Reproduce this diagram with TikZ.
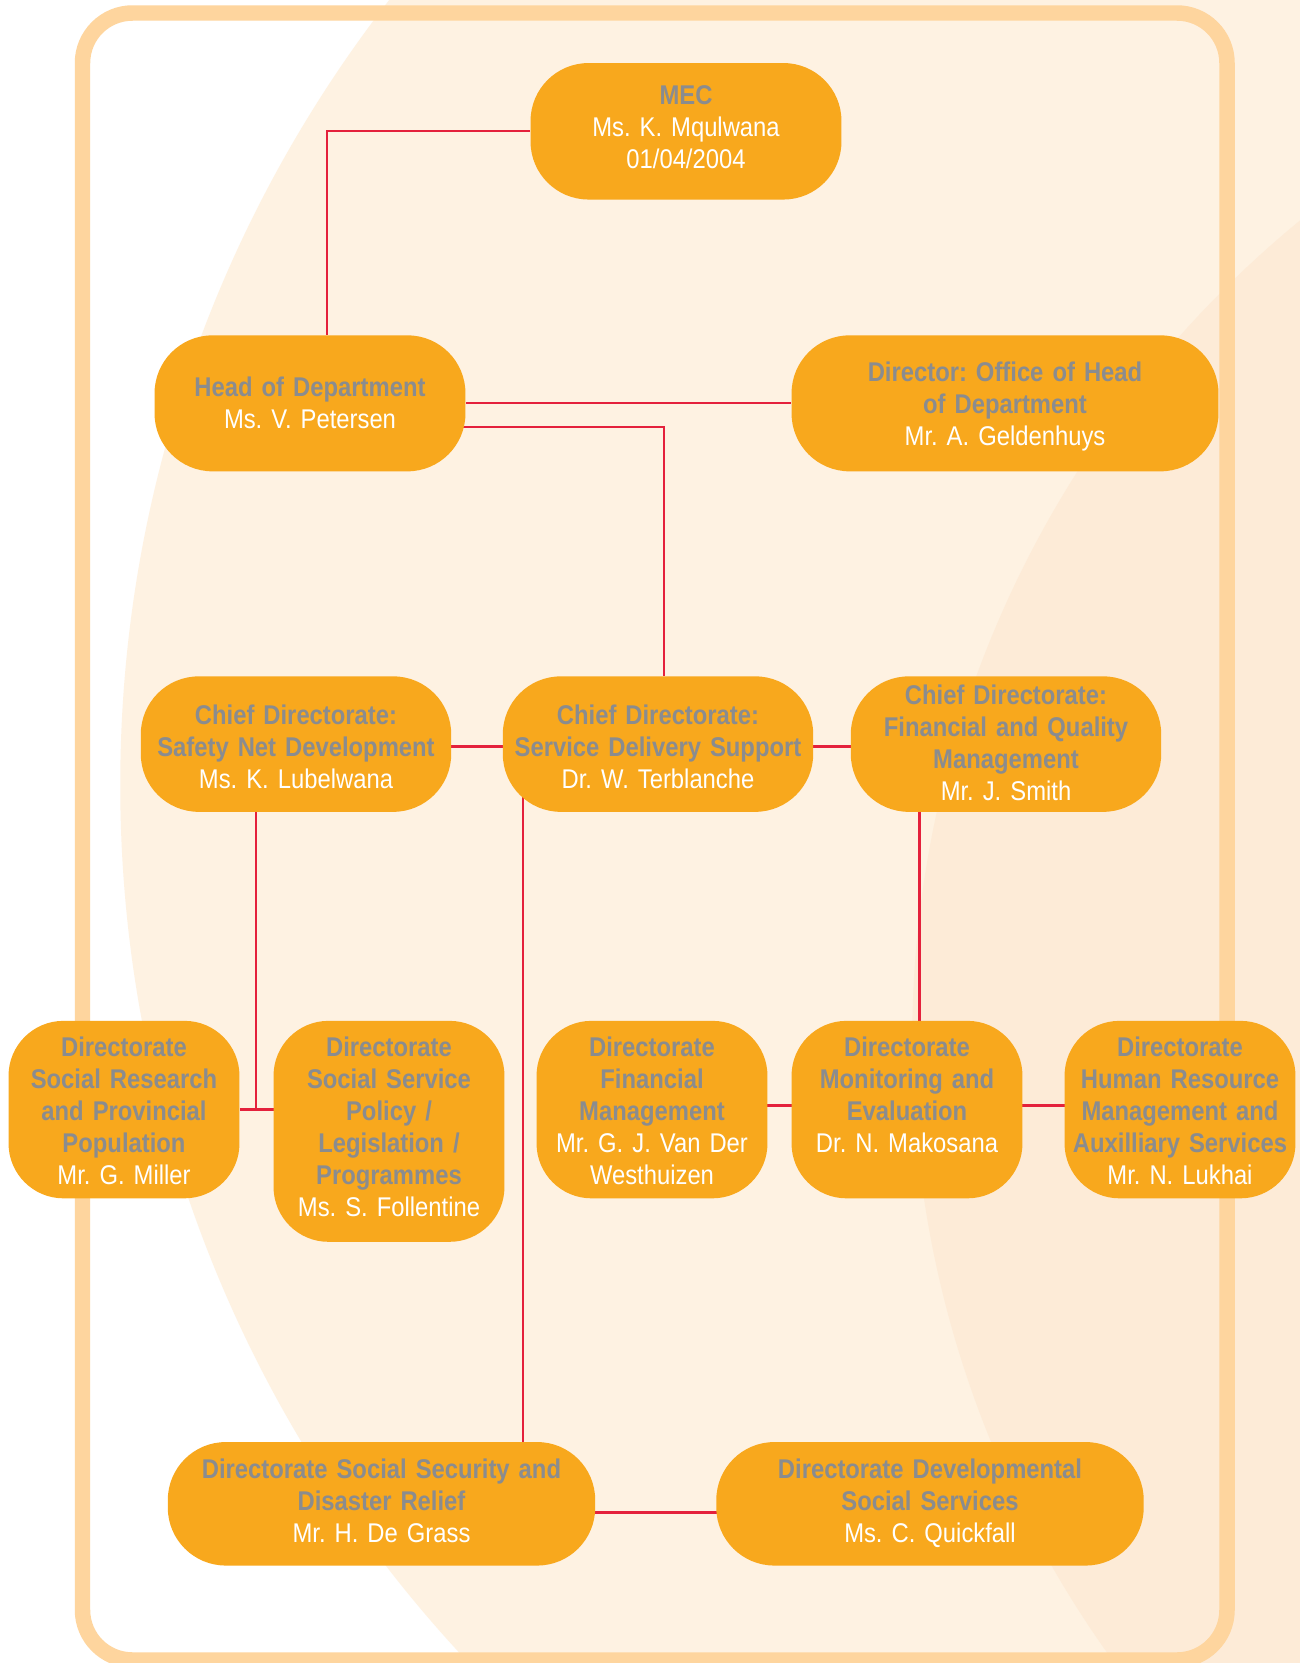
\documentclass[tikz,border=0pt]{standalone}
\usepackage{fontspec}
\setmainfont{Liberation Sans}[FakeStretch=0.88]

\pgfdeclarelayer{back}
\pgfdeclarelayer{wires}
\pgfsetlayers{back,wires,main}

\definecolor{boxorange}{HTML}{F8A81D}
\definecolor{titlegray}{HTML}{8A8C8F}
\definecolor{wirered}{HTML}{E4213C}
\definecolor{paper}{HTML}{FEF2E2}
\definecolor{paperdark}{HTML}{FDEBD7}
\definecolor{framepeach}{HTML}{FED59E}

\newcommand{\officer}[1]{\textcolor{white}{\mdseries #1}}

\tikzset{
  unit/.style={rectangle, rounded corners=1.16cm, fill=boxorange, inner sep=0pt,
    anchor=north, align=center, text=titlegray,
    font=\fontsize{15.4}{18.2}\selectfont\frenchspacing\bfseries},
  toprow/.style={unit, text width=6.22cm},
  chief/.style={unit, text width=6.21cm, text height=0.97cm, text depth=1.74cm},
  directorate/.style={unit, text width=4.62cm, rounded corners=1.1cm,
    text height=0.72cm, text depth=2.83cm},
  bottomrow/.style={unit, text width=8.55cm, text height=0.72cm, text depth=1.75cm},
  wire/.style={draw=wirered, line width=1.3pt},
  tie/.style={wire, line width=1.6pt},
}

\begin{document}
\begin{tikzpicture}[x=0.02cm, y=-0.02cm]
    \useasboundingbox (0,0) rectangle (1299,1663);
    \clip (0,0) rectangle (1299,1663);

    % Backdrop
    \begin{pgfonlayer}{back}
        \fill[white] (0,0) rectangle (1299,1663);
        \fill[paper] (1400,785) circle[radius=25.6cm];
        \fill[paperdark] (1972,1040) circle[radius=21.2cm];
        \draw[framepeach, line width=0.31cm, rounded corners=1cm] (82.5,13) rectangle (1227,1660);
    \end{pgfonlayer}

    % Top levels
    \node[toprow, text height=0.83cm, text depth=1.9cm] (mec) at (686,62.7) {MEC\\\officer{Ms. K. Mqulwana}\\\officer{01/04/2004}};
    \node[toprow, text height=1.22cm, text depth=1.5cm] (hod) at (310,335) {Head of Department\\\officer{Ms. V. Petersen}};
    \node[toprow, text width=8.54cm, text height=0.92cm, text depth=1.8cm] (dir) at (1005,335) {Director: Office of Head\\of Department\\\officer{Mr. A. Geldenhuys}};

    % Chief directorates
    \node[chief] (safety) at (296,676) {Chief Directorate:\\Safety Net Development\\\officer{Ms. K. Lubelwana}};
    \node[chief] (service) at (658,676) {Chief Directorate:\\Service Delivery Support\\\officer{Dr. W. Terblanche}};
    \node[chief, text height=0.57cm, text depth=2.14cm] (quality) at (1006,676) {Chief Directorate:\\Financial and Quality\\Management\\\officer{Mr. J. Smith}};

    % Directorates
    \node[directorate] (research) at (124,1020.5) {Directorate\\Social Research\\and Provincial\\Population\\\officer{Mr. G. Miller}};
    \node[directorate, text depth=3.7cm] (policy) at (389,1020.5) {Directorate\\Social Service\\Policy /\\Legislation /\\Programmes\\\officer{Ms. S. Follentine}};
    \node[directorate] (finance) at (652,1020.5) {Directorate\\Financial\\Management\\\officer{Mr. G. J. Van Der}\\\officer{Westhuizen}};
    \node[directorate] (monitor) at (907,1020.5) {Directorate\\Monitoring and\\Evaluation\\\officer{Dr. N. Makosana}};
    \node[directorate] (hr) at (1180,1020.5) {Directorate\\Human Resource\\Management and\\Auxilliary Services\\\officer{Mr. N. Lukhai}};

    % Bottom row
    \node[bottomrow] (relief) at (381.5,1441.7) {Directorate Social Security and\\Disaster Relief\\\officer{Mr. H. De Grass}};
    \node[bottomrow] (devel) at (930,1441.7) {Directorate Developmental\\Social Services\\\officer{Ms. C. Quickfall}};

    % Connectors
    \begin{pgfonlayer}{wires}
        \draw[wire] (mec.west) -| ([xshift=0.34cm]hod.north);
        \draw[wire] (hod.east) -- (dir.west);
        \draw[wire] ([yshift=-0.48cm]hod.center) -| ([xshift=0.12cm]service.north);
        \draw[tie] ([yshift=-0.04cm]safety.center) -- ([yshift=-0.04cm]service.center);
        \draw[tie] ([yshift=-0.04cm]service.center) -- ([yshift=-0.04cm]quality.center);
        \draw[wire] ([xshift=-0.8cm]safety.center) -- ([xshift=-0.8cm]safety.center |- research.center);
        \draw[tie] (research) -- (research -| policy);
        \draw[wire] ([xshift=-2.7cm]service.center) -- ([xshift=-2.7cm]service.center |- relief.center);
        \draw[wire] ([xshift=-1.73cm]quality.center) -- ([xshift=-1.73cm]quality.center |- monitor.center);
        \draw[tie] ([yshift=0.09cm]finance.center) -- ([yshift=0.09cm]monitor.center);
        \draw[tie] ([yshift=0.09cm]monitor.center) -- ([yshift=0.09cm]hr.center);
        \draw[tie] ([yshift=-0.18cm]relief.center) -- ([yshift=-0.18cm]devel.center);
    \end{pgfonlayer}
\end{tikzpicture}
\end{document}
